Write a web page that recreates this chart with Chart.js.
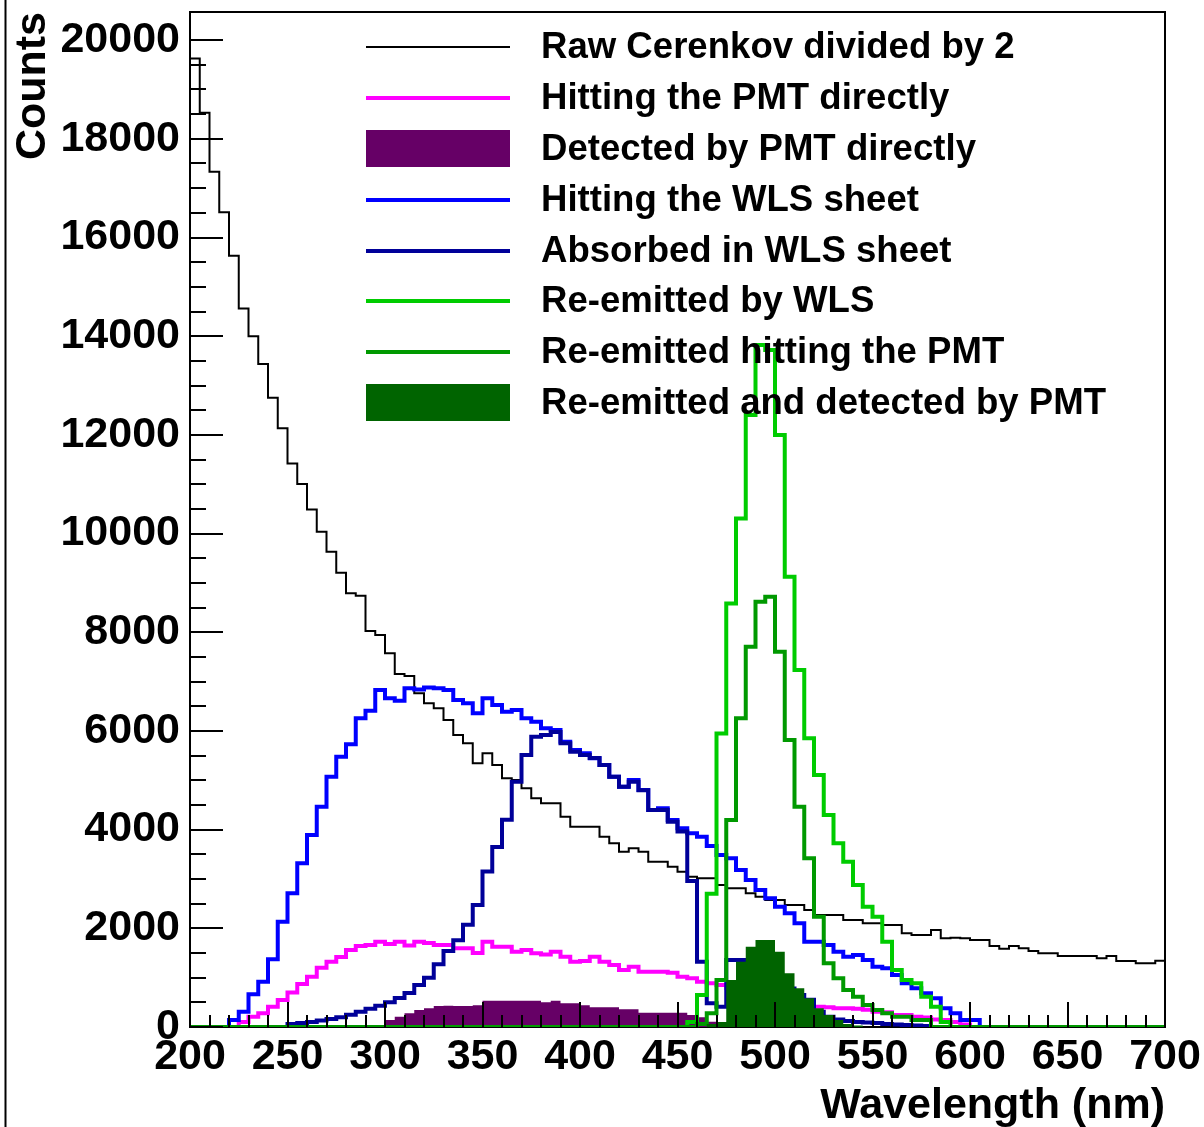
<!DOCTYPE html>
<html>
<head>
<meta charset="utf-8">
<title>Cerenkov photons</title>
<script src="https://cdn.jsdelivr.net/npm/chart.js@4.4.1/dist/chart.umd.min.js"></script>
<style>
body { margin: 0; background: #fff; }
#wrap { position: relative; width: 1204px; height: 1127px; overflow: hidden; }
#myChart1 { position: absolute; left: 0; top: 0; }
#legend { position: absolute; left: 0; top: 0; font-family: "Liberation Sans", Arial, sans-serif; font-weight: bold; font-size: 36.6px; color: #000; }
.item { position: absolute; left: 366px; height: 50px; width: 820px; }
.item .sym { position: absolute; left: 0; width: 144px; }
.item .txt { position: absolute; left: 175px; top: -1px; line-height: 50px; white-space: nowrap; }
</style>
</head>
<body>
<div id="wrap">
<canvas id="myChart1" width="1204" height="1127"></canvas>
<div id="legend"></div>
</div>
<script>
// bin edges in nm (100 bins, the last entry closes the last bin)
const binEdges = [200,205,210,215,220,225,230,235,240,245,
	250,255,260,265,270,275,280,285,290,295,
	300,305,310,315,320,325,330,335,340,345,
	350,355,360,365,370,375,380,385,390,395,
	400,405,410,415,420,425,430,435,440,445,
	450,455,460,465,470,475,480,485,490,495,
	500,505,510,515,520,525,530,535,540,545,
	550,555,560,565,570,575,580,585,590,595,
	600,605,610,615,620,625,630,635,640,645,
	650,655,660,665,670,675,680,685,690,695,700];

const xTicks = [200,250,300,350,400,450,500,550,600,650,700];
const yTicks = [0,2000,4000,6000,8000,10000,12000,14000,16000,18000,20000];

// bin contents
const rawCerenkov = [19630,18530,17330,16510,15630,14560,14000,13435,12752,12132,
	11422,11003,10490,10036,9631,9206,8788,8741,8024,7943,
	7572,7153,7112,6762,6559,6458,6221,5917,5748,5343,
	5546,5309,5039,5005,4836,4634,4533,4533,4262,4059,
	4059,4059,3856,3722,3553,3621,3553,3350,3350,3248,
	3147,3046,3013,3013,2877,2810,2810,2709,2641,2573,
	2573,2472,2472,2371,2270,2270,2270,2168,2168,2101,
	2101,2067,2067,1898,1864,1864,1966,1797,1810,1797,
	1763,1763,1641,1587,1641,1594,1540,1493,1493,1439,
	1439,1439,1439,1392,1439,1337,1337,1290,1290,1344];

const hitPMT = [0,0,0,0,0,100,209,277,412,547,
	700,870,1020,1200,1320,1420,1560,1640,1662,1729,
	1680,1729,1650,1729,1700,1662,1662,1594,1594,1500,
	1729,1628,1628,1526,1560,1493,1470,1526,1425,1324,
	1340,1425,1324,1256,1155,1222,1121,1121,1121,1100,
	1020,987,919,885,850,790,755,690,655,600,
	560,515,480,446,412,400,379,379,370,350,
	310,300,243,243,209,190,150,142,100,50,
	0,0,0,0,0,0,0,0,0,0,
	0,0,0,0,0,0,0,0,0,0];

const detectedPMT = [0,0,0,0,0,0,0,0,0,0,
	0,0,0,0,0,0,0,0,0,0,
	142,209,277,344,379,425,430,425,425,440,
	533,533,533,533,533,533,500,533,480,480,
	440,399,399,399,359,359,290,290,290,290,
	290,243,200,107,60,30,0,0,0,0,
	0,0,0,0,0,0,0,0,0,0,
	0,0,0,0,0,0,0,0,0,0,
	0,0,0,0,0,0,0,0,0,0,
	0,0,0,0,0,0,0,0,0,0];

const hitWLS = [0,0,0,0,142,310,662,919,1372,2134,
	2709,3317,3891,4465,5073,5477,5728,6255,6410,6829,
	6660,6613,6863,6842,6880,6863,6829,6626,6559,6356,
	6660,6525,6389,6423,6255,6187,6052,6018,5781,5613,
	5546,5445,5309,5073,4870,5005,4802,4397,4431,4195,
	4026,3925,3856,3670,3485,3418,3181,2979,2776,2608,
	2438,2304,2101,1729,1729,1662,1526,1425,1459,1358,
	1222,1189,1054,885,784,683,582,379,278,142,
	142,0,0,0,0,0,0,0,0,0,
	0,0,0,0,0,0,0,0,0,0];

const absorbedWLS = [0,0,0,0,0,0,0,0,0,0,
	60,80,100,130,160,200,250,310,370,430,
	500,590,690,850,1000,1270,1540,1760,2070,2470,
	3150,3650,4200,4970,5510,5880,5920,5980,5750,5580,
	5510,5450,5310,5070,4870,4970,4800,4400,4400,4160,
	3960,2960,1320,480,410,1360,1360,1250,1150,1000,
	900,780,650,550,310,210,150,120,100,90,
	80,60,50,40,30,20,0,0,0,0,
	0,0,0,0,0,0,0,0,0,0,
	0,0,0,0,0,0,0,0,0,0];

const reEmitted = [0,0,0,0,0,0,0,0,0,0,
	0,0,0,0,0,0,0,0,0,0,
	0,0,0,0,0,0,0,0,0,0,
	0,0,0,0,0,0,0,0,0,0,
	0,0,0,0,0,0,0,0,0,0,
	0,100,650,2700,5950,8585,10307,12401,13820,13720,
	11996,9125,7234,5850,5106,4296,3722,3350,2877,2438,
	2235,1729,1155,952,885,614,412,100,0,0,
	0,0,0,0,0,0,0,0,0,0,
	0,0,0,0,0,0,0,0,0,0];

const reHitPMT = [0,0,0,0,0,0,0,0,0,0,
	0,0,0,0,0,0,0,0,0,0,
	0,0,0,0,0,0,0,0,0,0,
	0,0,0,0,0,0,0,0,0,0,
	0,0,0,0,0,0,0,0,0,0,
	0,0,60,277,950,4195,6255,7706,8619,8720,
	7605,5816,4465,3418,2235,1290,987,750,614,446,
	344,277,209,209,142,142,0,0,0,0,
	0,0,0,0,0,0,0,0,0,0,
	0,0,0,0,0,0,0,0,0,0];

const reDetected = [0,0,0,0,0,0,0,0,0,0,
	0,0,0,0,0,0,0,0,0,0,
	0,0,0,0,0,0,0,0,0,0,
	0,0,0,0,0,0,0,0,0,0,
	0,0,0,0,0,0,0,0,0,0,
	0,0,0,60,100,952,1324,1628,1763,1763,
	1526,1088,784,582,379,243,142,60,30,0,
	0,0,0,0,0,0,0,0,0,0,
	0,0,0,0,0,0,0,0,0,0,
	0,0,0,0,0,0,0,0,0,0];

const seriesNames = ['Raw Cerenkov divided by 2', 'Hitting the PMT directly', 'Detected by PMT directly',
	'Hitting the WLS sheet', 'Absorbed in WLS sheet', 'Re-emitted by WLS',
	'Re-emitted hitting the PMT', 'Re-emitted and detected by PMT'];
const seriesValues = [rawCerenkov, hitPMT, detectedPMT, hitWLS, absorbedWLS, reEmitted, reHitPMT, reDetected];

// styles
const seriesColors = ['#000000', '#ff00ff', '#660066', '#0000ff', '#000099', '#00cc00', '#009900', '#006400'];
const seriesWidths = [2, 4, 0, 4, 4, 4, 4, 0];   // 0 = filled histogram
const seriesOrder = [8, 7, 4, 6, 5, 3, 2, 1];   // lower is drawn on top

const axisFont = {family: '"Liberation Sans", Arial, sans-serif', size: 43, weight: 'bold'};

function histPoints(values){
	// one point per bin edge, the closing edge repeats the last bin
	let pts = [];
	for(var i=0;i<binEdges.length;i=i+1){
		pts.push({x: binEdges[i], y: values[Math.min(i, values.length-1)]});
	}
	return pts;
}

function makeSets(){
	let sets = [];
	for(var i=0;i<seriesNames.length;i=i+1){
		let filled = seriesWidths[i] == 0;
		sets.push({
			label: seriesNames[i],
			data: histPoints(seriesValues[i]),
			borderColor: filled ? 'rgba(0,0,0,0)' : seriesColors[i],
			backgroundColor: seriesColors[i],
			borderWidth: filled ? 1 : seriesWidths[i],
			fill: filled ? 'origin' : false,
			stepped: 'before',
			pointRadius: 0,
			order: seriesOrder[i]
		});
	}
	return sets;
}

function makeLegend(){
	let box = document.getElementById('legend');
	for(var i=0;i<seriesNames.length;i=i+1){
		let item = document.createElement('div');
		item.className = 'item';
		item.style.top = (47.3 + i * 50.8 - 25) + 'px';
		let sym = document.createElement('div');
		sym.className = 'sym';
		let h = seriesWidths[i] == 0 ? 37 : seriesWidths[i];
		sym.style.height = h + 'px';
		sym.style.top = (25 - h / 2) + 'px';
		sym.style.background = seriesColors[i];
		let txt = document.createElement('div');
		txt.className = 'txt';
		txt.textContent = seriesNames[i];
		item.appendChild(sym);
		item.appendChild(txt);
		box.appendChild(item);
	}
}

// ROOT style frame, drawn under the histograms
const frame = {
	id: 'frame',
	beforeDatasetsDraw(chart){
		const ctx = chart.ctx;
		const a = chart.chartArea;
		ctx.save();
		ctx.strokeStyle = '#000';
		ctx.lineWidth = 2;
		ctx.strokeRect(a.left, a.top, a.right - a.left, a.bottom - a.top);
		ctx.beginPath();
		ctx.moveTo(5.5, 0);
		ctx.lineTo(5.5, chart.height);
		ctx.stroke();
		ctx.restore();
	}
};

// inward tick marks with minor ticks
const rootTicks = {
	id: 'rootTicks',
	afterDatasetsDraw(chart){
		const ctx = chart.ctx;
		const a = chart.chartArea;
		const xs = chart.scales.x;
		const ys = chart.scales.y;
		ctx.save();
		ctx.strokeStyle = '#000';
		ctx.lineWidth = 2;
		ctx.beginPath();
		for(var v=200;v<=700;v=v+10){
			let px = Math.round(xs.getPixelForValue(v));
			let len = (v % 50 == 0) ? 25 : 12;
			ctx.moveTo(px, a.bottom);
			ctx.lineTo(px, a.bottom - len);
		}
		for(var w=0;w<=20000;w=w+500){
			let py = Math.round(ys.getPixelForValue(w));
			let len = (w % 2000 == 0) ? 33 : 16;
			ctx.moveTo(a.left, py);
			ctx.lineTo(a.left + len, py);
		}
		ctx.stroke();
		ctx.restore();
	}
};

const config = {
	type: 'line',
	data: { datasets: makeSets() },
	options: {
		responsive: false,
		animation: false,
		layout: { padding: { left: 0, right: 39, top: 12, bottom: 0 } },
		plugins: { legend: { display: false }, tooltip: { enabled: false } },
		scales: {
			x: {
				type: 'linear', min: 200, max: 700,
				grid: { display: false, drawTicks: false },
				border: { display: false },
				afterBuildTicks: s => { s.ticks = xTicks.map(v => ({value: v})); },
				afterFit: s => { s.height = 100; s.paddingLeft = 0; s.paddingRight = 0; },
				ticks: { color: '#000', font: axisFont, padding: 4, maxRotation: 0, autoSkip: false, callback: v => String(v) },
				title: { display: true, text: 'Wavelength (nm)', align: 'end', color: '#000', font: axisFont, padding: { top: 0, bottom: -5 } }
			},
			y: {
				min: 0, max: 20570,
				grid: { display: false, drawTicks: false },
				border: { display: false },
				afterBuildTicks: s => { s.ticks = yTicks.map(v => ({value: v})); },
				afterFit: s => { s.width = 190; s.paddingTop = 0; s.paddingBottom = 0; },
				ticks: { color: '#000', font: axisFont, padding: 10, callback: v => String(v) },
				title: { display: true, text: 'Counts', align: 'end', color: '#000', font: axisFont, padding: { top: 7, bottom: 0 } }
			}
		}
	},
	plugins: [frame, rootTicks]
};

makeLegend();
let myChart1 = new Chart(document.getElementById('myChart1'), config);
</script>
</body>
</html>
